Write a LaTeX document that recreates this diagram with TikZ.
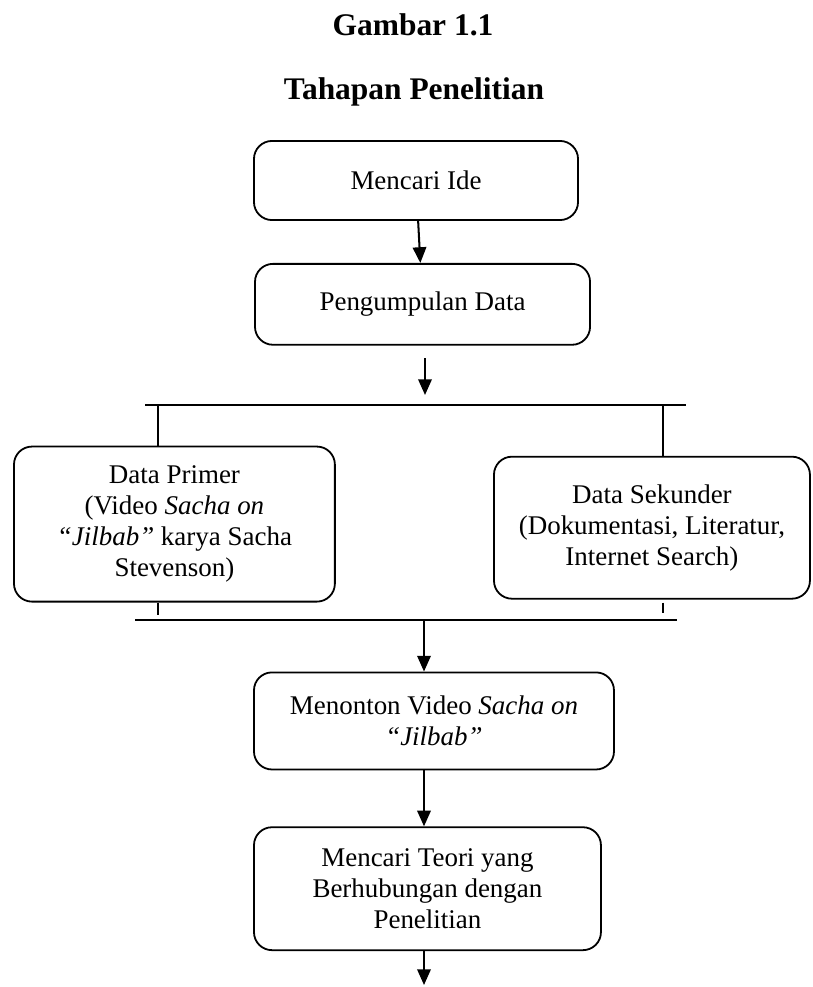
\documentclass[tikz,border=0pt]{standalone}
\usepackage{fontspec}
\setmainfont{Liberation Serif}
\usetikzlibrary{positioning,arrows.meta}
\tikzset{
kotak/.style={draw, line width=0.8pt, rounded corners=8pt, align=center, inner sep=2pt, font=\fontsize{12}{13.8}\selectfont},
panah/.style={line width=0.9pt, -{Triangle[width=6pt,length=7pt]}},
garis/.style={line width=0.8pt},
judul/.style={font=\fontsize{14}{16}\selectfont\bfseries, anchor=base},
}
\begin{document}
\begin{tikzpicture}[x=0.445pt,y=-0.445pt]
\useasboundingbox (0,0) rectangle (812,987);
\node[judul](j1) at (413,36) {Gambar 1.1};
\node[judul](j2) at (414,100) {Tahapan Penelitian};
\node[kotak, minimum width=144.2pt, minimum height=35.2pt](ide) at (416,180.5) {Mencari Ide};
\node[kotak, minimum width=149.1pt, minimum height=36pt, below=18.7pt of ide, xshift=2.9pt](data) {Pengumpulan Data};
\node[kotak, minimum width=142.8pt, minimum height=69pt, below=44.5pt of data, xshift=-110.4pt](primer) {Data Primer\\(Video \textit{Sacha on}\\\textit{“Jilbab”} karya Sacha\\Stevenson)};
\node[kotak, minimum width=140.6pt, minimum height=63.2pt, below=49pt of data, xshift=102.1pt](sekunder) {Data Sekunder\\(Dokumentasi, Literatur,\\Internet Search)};
\node[kotak, minimum width=160.2pt, minimum height=43.2pt, below=145pt of data, xshift=5.1pt](tonton) {Menonton Video \textit{Sacha on}\\\textit{“Jilbab”}};
\node[kotak, minimum width=154.4pt, minimum height=54.7pt, below=24.9pt of tonton, xshift=-2.9pt](teori) {Mencari Teori yang\\Berhubungan dengan\\Penelitian};
\coordinate (b1L) at (145,405); \coordinate (b1R) at (686,405);
\coordinate (b2L) at (135,620); \coordinate (b2R) at (677,620);
\coordinate (c1) at (158,405); \coordinate (c2) at (663,405); \coordinate (c3) at (424,620);
\coordinate (p1) at (425,358); \coordinate (p2) at (425,395); \coordinate (p3) at (424,985);
\draw[panah](ide)--(data);
\draw[panah](p1)--(p2);
\draw[garis](b1L)--(b1R);
\draw[garis](c1)--(c1|-primer.north);
\draw[garis](c2)--(c2|-sekunder.north);
\draw[garis](primer.south-|c1)--++(0,12);
\draw[garis]([yshift=-1.3pt]sekunder.south-|c2)--++(0,10);
\draw[garis](b2L)--(b2R);
\draw[panah](c3)--(c3|-tonton.north);
\draw[panah](tonton.south-|c3)--(teori.north-|c3);
\draw[panah](teori.south-|c3)--(p3); %ujung bawah terpotong
\end{tikzpicture}
\end{document}
